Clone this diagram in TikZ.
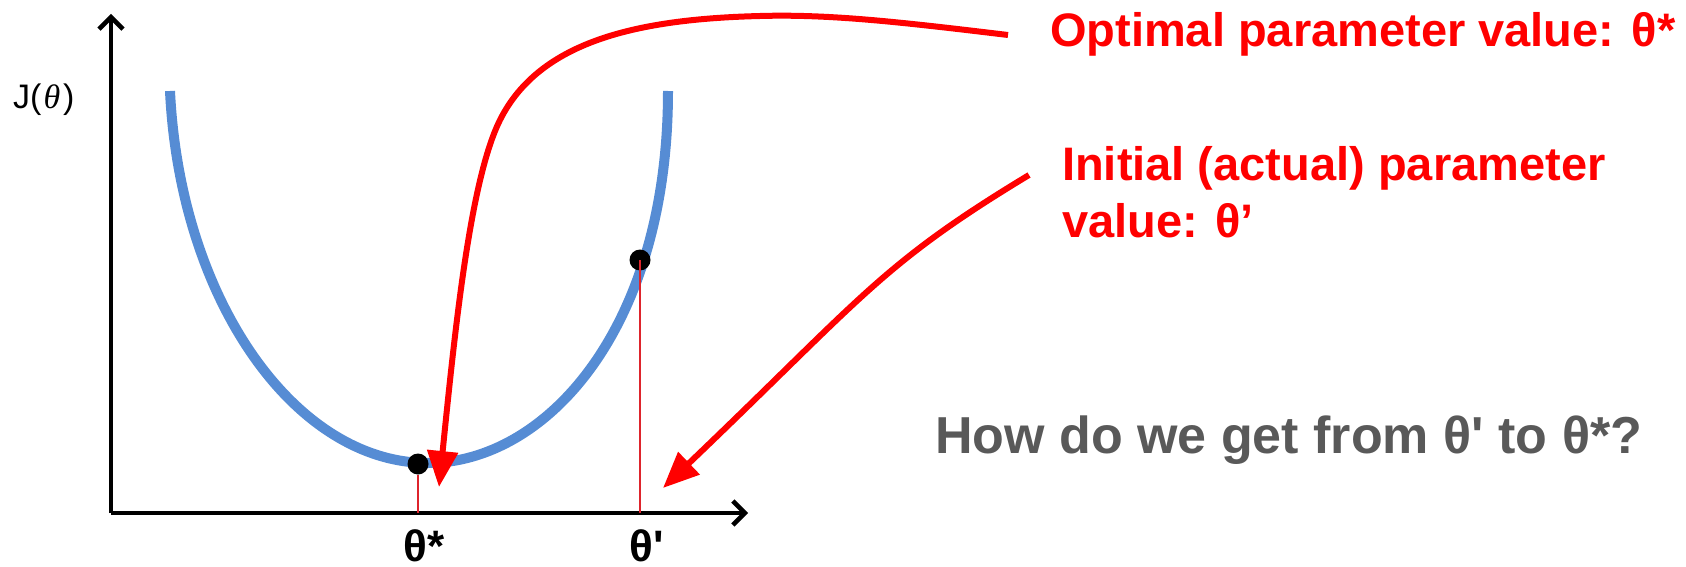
\documentclass[tikz,border=0pt]{standalone}
\usepackage{fontspec}
\setmainfont{Liberation Sans}
\newfontfamily\thetafont{Liberation Serif}
\usetikzlibrary{arrows.meta}
\definecolor{curveblue}{RGB}{86,140,212}
\definecolor{thinred}{RGB}{222,36,44}
\definecolor{txtgray}{RGB}{89,89,89}
\tikzset{
  axisline/.style={line width=4.5pt,-{Straight Barb[length=12pt,width=24pt,line width=4.5pt]}},
  curveline/.style={line width=10pt,curveblue},
  pointer/.style={line width=6pt,red,-{Triangle[length=36pt,width=30pt]}},
  dropline/.style={line width=2pt,thinred},
  dotmark/.style={circle,fill=black,inner sep=0pt,minimum size=21pt},
  redlabel/.style={red,font=\fontsize{47}{57}\selectfont\bfseries,inner sep=0pt,align=left},
  ticklabel/.style={font=\fontsize{44}{48}\selectfont\bfseries,inner sep=0pt,text depth=0pt},
}
\begin{document}
\begin{tikzpicture}[x=1pt,y=-1pt]
\useasboundingbox (0,0) rectangle (1686,567);
% axes
\coordinate (origin) at (111,513);
\coordinate (ytop) at (111,14);
\coordinate (xend) at (748,513);
\draw[axisline] (origin) -- (ytop);
\draw[axisline] (origin) -- (xend);
\node[anchor=west,inner sep=0pt,font=\fontsize{34}{40}\selectfont] (jlab) at (13,100) {J(\kern2pt{\thetafont\itshape θ}\kern3pt)};
% cost curve
\draw[curveline] (170,91) .. controls (180,300) and (295,463) .. (428,463)
                 .. controls (545,463) and (668,330) .. (668,91);
% points
\node[dotmark] (tmin) at (418,464) {};
\node[dotmark] (tinit) at (640,260) {};
\draw[dropline] (tmin) -- (tmin |- origin);
\draw[dropline] (tinit.center) -- (tinit |- origin);
\node[ticklabel,anchor=base] (lstar) at (424,561) {θ*};
\node[ticklabel,anchor=base] (lprime) at (647,561) {θ\textquotesingle};
% labels
\node[redlabel,anchor=base west] (opt) at (1050,47) {Optimal parameter value: θ*};
\node[redlabel,anchor=north west] (init) at (1062,146) {Initial (actual) parameter\\value: θ’};
\node[anchor=base west,inner sep=0pt,txtgray,font=\fontsize{52}{60}\selectfont\bfseries] (question) at (935,453) {How do we get from θ\textquotesingle{} to θ*?};
% arrows
\coordinate (o1) at (1008,35);
\coordinate (o1e) at (439,487);
\coordinate (o2) at (1029,175);
\coordinate (o2e) at (663,488);
\draw[pointer] (o1) .. controls (900,22) and (830,14) .. (760,16)
   .. controls (640,19) and (540,40) .. (500,120)
   .. controls (470,180) and (455,330) .. (o1e);
\draw[pointer] (o2) .. controls (880,265) and (863,297) .. (o2e);
\end{tikzpicture}
\end{document}
